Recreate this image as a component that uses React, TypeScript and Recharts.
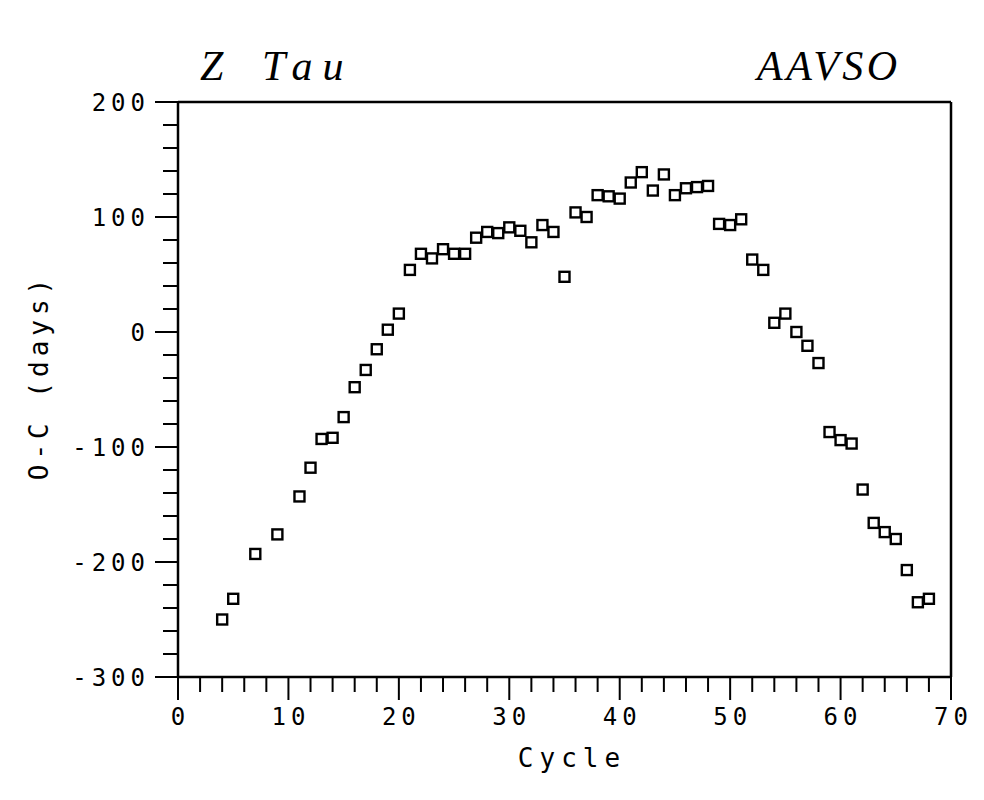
import React from 'react';
import { ScatterChart, Scatter, XAxis, YAxis } from 'recharts';

const cycles = [4, 5, 7, 9, 11, 12, 13, 14, 15, 16, 17, 18, 19, 20, 21, 22, 23, 24, 25, 26, 27, 28, 29, 30, 31, 32, 33, 34, 35, 36, 37, 38, 39, 40, 41, 42, 43, 44, 45, 46, 47, 48, 49, 50, 51, 52, 53, 54, 55, 56, 57, 58, 59, 60, 61, 62, 63, 64, 65, 66, 67, 68];
const ocDays = [-250, -232, -193, -176, -143, -118, -93, -92, -74, -48, -33, -15, 2, 16, 54, 68, 64, 72, 68, 68, 82, 87, 86, 91, 88, 78, 93, 87, 48, 104, 100, 119, 118, 116, 130, 139, 123, 137, 119, 125, 126, 127, 94, 93, 98, 63, 54, 8, 16, 0, -12, -27, -87, -94, -97, -137, -166, -174, -180, -207, -235, -232];

const xTicks = [0, 2, 4, 6, 8, 10, 12, 14, 16, 18, 20, 22, 24, 26, 28, 30, 32, 34, 36, 38, 40, 42, 44, 46, 48, 50, 52, 54, 56, 58, 60, 62, 64, 66, 68, 70];
const xLabelTicks = [0, 10, 20, 30, 40, 50, 60, 70];
const yTicks = [-300, -280, -260, -240, -220, -200, -180, -160, -140, -120, -100, -80, -60, -40, -20, 0, 20, 40, 60, 80, 100, 120, 140, 160, 180, 200];
const yLabelTicks = [-300, -200, -100, 0, 100, 200];

const data = cycles.map((c, i) => ({ x: c, y: ocDays[i] }));

const MONO = '"DejaVu Sans Mono", monospace';
const SERIF = '"Liberation Serif", "DejaVu Serif", serif';

const XTick = (props: any) => {
  const { x, y, payload } = props;
  const v = payload.value;
  const major = xLabelTicks.includes(v);
  return (
    <g>
      <line x1={x} x2={x} y1={y} y2={y + (major ? 23 : 15)} stroke="#000" strokeWidth={2} />
      {major && (
        <text x={x + 2.5} y={y + 48} textAnchor="middle" fontFamily={MONO} fontSize={24} letterSpacing={5} fill="#000">
          {String(v)}
        </text>
      )}
    </g>
  );
};

const YTick = (props: any) => {
  const { x, y, payload } = props;
  const v = payload.value;
  const major = yLabelTicks.includes(v);
  return (
    <g>
      <line x1={x - (major ? 23 : 15)} x2={x} y1={y} y2={y} stroke="#000" strokeWidth={2} />
      {major && (
        <text x={x - 28} y={y + 8.5} textAnchor="end" fontFamily={MONO} fontSize={24} letterSpacing={5} fill="#000">
          {String(v)}
        </text>
      )}
    </g>
  );
};

const SquareShape = (props: any) => {
  const { cx, cy } = props;
  if (cx == null || cy == null) return null;
  return <rect x={cx - 5} y={cy - 5} width={10} height={10} fill="none" stroke="#000" strokeWidth={2.4} />;
};

export default function App() {
  const axisLine = { stroke: '#000', strokeWidth: 2.5 };
  return (
    <div style={{ position: 'relative', width: 976, height: 784, background: '#fff' }}>
      <ScatterChart width={976} height={784} margin={{ top: 84, right: 23, bottom: 55, left: 100 }}>
        <XAxis
          xAxisId="b"
          dataKey="x"
          type="number"
          domain={[0, 70]}
          ticks={xTicks}
          interval={0}
          tickSize={0}
          tickMargin={0}
          tickLine={false}
          tick={(p: any) => <XTick {...p} />}
          axisLine={axisLine}
          height={60}
          allowDataOverflow
        />
        <XAxis
          xAxisId="t"
          orientation="top"
          type="number"
          domain={[0, 70]}
          tick={false}
          tickLine={false}
          axisLine={axisLine}
          height={10}
        />
        <YAxis
          yAxisId="l"
          dataKey="y"
          type="number"
          domain={[-300, 200]}
          ticks={yTicks}
          interval={0}
          tickSize={0}
          tickMargin={0}
          tickLine={false}
          tick={(p: any) => <YTick {...p} />}
          axisLine={axisLine}
          width={70}
          allowDataOverflow
        />
        <YAxis
          yAxisId="r"
          orientation="right"
          type="number"
          domain={[-300, 200]}
          tick={false}
          tickLine={false}
          axisLine={axisLine}
          width={10}
        />
        <Scatter xAxisId="b" yAxisId="l" data={data} shape={(p: any) => <SquareShape {...p} />} isAnimationActive={false} />
      </ScatterChart>
      <svg width={976} height={784} style={{ position: 'absolute', left: 0, top: 0, pointerEvents: 'none' }}>
        <text x={192} y={72} fontFamily={SERIF} fontStyle="italic" fontSize={42} fill="#000">Z</text>
        <text x={254} y={72} fontFamily={SERIF} fontStyle="italic" fontSize={42} letterSpacing={10} fill="#000">Tau</text>
        <text x={749} y={72} fontFamily={SERIF} fontStyle="italic" fontSize={42} letterSpacing={3.5} fill="#000">AAVSO</text>
        <text
          x={40}
          y={369}
          transform="rotate(-90, 40, 369)"
          textAnchor="middle"
          fontFamily={MONO}
          fontSize={26}
          letterSpacing={5}
          fill="#000"
        >
          O-C (days)
        </text>
        <text x={564} y={759} textAnchor="middle" fontFamily={MONO} fontSize={26} letterSpacing={6} fill="#000">Cycle</text>
      </svg>
    </div>
  );
}
